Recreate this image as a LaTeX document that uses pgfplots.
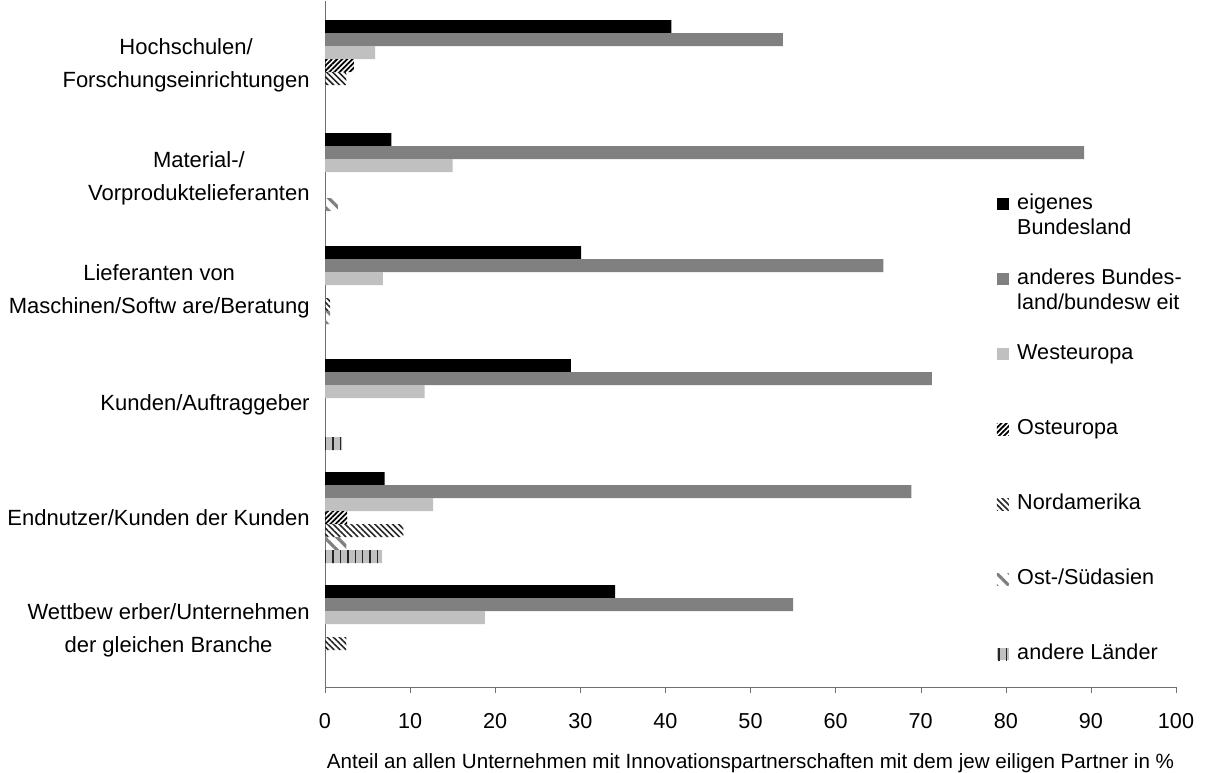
\documentclass[border=0pt]{standalone}
\usepackage{fontspec}
\setmainfont{Liberation Sans}
\usepackage{pgfplots}
\pgfplotsset{compat=1.18}
\usetikzlibrary{patterns.meta}
\definecolor{cA}{HTML}{808080}
\definecolor{cB}{HTML}{C0C0C0}
\definecolor{axgray}{HTML}{707070}

% y: 5 = Hochschulen (top) ... 0 = Wettbewerber (bottom)
\pgfplotstableread{
y v
5 40.7
4 7.8
3 30.1
2 28.9
1 7.0
0 34.1
}\eigenes
\pgfplotstableread{
y v
5 53.8
4 89.2
3 65.6
2 71.3
1 68.9
0 55.0
}\anderes
\pgfplotstableread{
y v
5 5.9
4 15.0
3 6.8
2 11.7
1 12.7
0 18.8
}\west
\pgfplotstableread{
y v
5 3.4
1 2.6
}\ost
\pgfplotstableread{
y v
5 2.5
3 0.6
1 9.2
0 2.5
}\nord
\pgfplotstableread{
y v
4 1.5
3 0.6
1 2.5
}\asien
\pgfplotstableread{
y v
2 2.0
1 6.7
}\andere

\begin{document}
\begin{tikzpicture}[font=\fontsize{10.8bp}{13bp}\selectfont]
\useasboundingbox (0,0) rectangle (602.5bp,386.5bp);
\begin{axis}[
  at={(162.5bp,43bp)}, anchor=south west,
  scale only axis, width=425.5bp, height=343bp,
  xbar, bar width=0.11504,
  xmin=0, xmax=100,
  ymin=-0.5, ymax=5.571,
  axis x line*=bottom, axis y line*=left,
  axis line style={axgray},
  xtick={0,10,...,100},
  tick align=outside, major tick length=3bp,
  x tick style={axgray},
  ytick={0,1,2,3,4,5},
  ytick style={draw=none},
  yticklabels={
    {Wettbew erber/Unternehmen\\der gleichen Branche},
    {Endnutzer/Kunden der Kunden},
    {Kunden/Auftraggeber},
    {Lieferanten von\\Maschinen/Softw are/Beratung},
    {Material-/\\Vorproduktelieferanten},
    {Hochschulen/\\Forschungseinrichtungen}},
  yticklabel style={align=center, anchor=east, inner sep=0pt, xshift=-4.5bp,
    font=\fontsize{11bp}{16.5bp}\selectfont},
  xticklabel style={anchor=center, inner sep=0pt, yshift=-13.8bp},
  /pgf/number format/assume math mode=true,
  xlabel={Anteil an allen Unternehmen mit Innovationspartnerschaften mit dem jew eiligen Partner in \%},
  xlabel style={at={(axis description cs:0.5,0)}, anchor=center, yshift=-38bp, inner sep=0pt,
    font=\fontsize{10.3bp}{12bp}\selectfont},
  legend cell align=left,
  legend style={draw=none, fill=none, at={(0.789,0.722)}, anchor=north west,
    inner sep=0pt, row sep=25.5bp, column sep=3.2bp,
    font=\fontsize{10.8bp}{12.5bp}\selectfont,
    nodes={inner sep=1bp, text height=7.8bp, text depth=2.2bp}},
  mylegend/.style={legend image code/.code={\path[##1] (0bp,-3bp) rectangle (6bp,3bp);}},
]
\addplot[draw=none, fill=black, bar shift=0.34512, mylegend] table[x=v,y=y]{\eigenes};
\addlegendentry{\begin{tabular}[t]{@{}l@{}}eigenes\\Bundesland\end{tabular}}
\addplot[draw=none, fill=cA, bar shift=0.23008, mylegend] table[x=v,y=y]{\anderes};
\addlegendentry{\begin{tabular}[t]{@{}l@{}}anderes Bundes-\\land/bundesw eit\end{tabular}}
\addplot[draw=none, fill=cB, bar shift=0.11504, mylegend] table[x=v,y=y]{\west};
\addlegendentry{Westeuropa}
\addplot[draw=none, fill=white, bar shift=0, pattern={Lines[angle=45,distance=1.8bp,line width=0.9bp]}, pattern color=black, mylegend] table[x=v,y=y]{\ost};
\addlegendentry{Osteuropa}
\addplot[draw=none, fill=white, bar shift=-0.11504, pattern={Lines[angle=-45,distance=2.1bp,line width=0.8bp]}, pattern color=black!85, mylegend] table[x=v,y=y]{\nord};
\addlegendentry{Nordamerika}
\addplot[draw=none, fill=white, bar shift=-0.23008, pattern={Lines[angle=-45,distance=4.5bp,line width=1.6bp]}, pattern color=cA, mylegend] table[x=v,y=y]{\asien};
\addlegendentry{Ost-/Südasien}
\addplot[draw=none, fill=cB, bar shift=-0.34512, postaction={pattern={Lines[angle=90,distance=3.7bp,line width=0.7bp]}, pattern color=black!85}, mylegend] table[x=v,y=y]{\andere};
\addlegendentry{andere Länder}
\end{axis}
\end{tikzpicture}
\end{document}
